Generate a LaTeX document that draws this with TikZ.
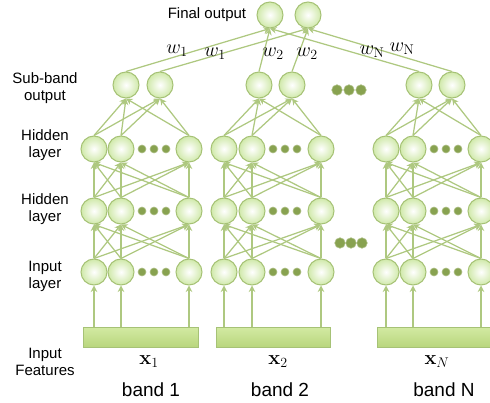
\RequirePackage{fix-cm}
\documentclass[tikz,border=0pt]{standalone}
\usepackage[no-math]{fontspec}
\setmainfont{Liberation Sans}
\usetikzlibrary{arrows.meta}
\definecolor{lnc}{RGB}{174,200,128}
\definecolor{nbd}{RGB}{166,194,118}
\definecolor{nfl}{RGB}{208,233,170}
\definecolor{dotc}{RGB}{136,162,80}
\definecolor{bartop}{RGB}{210,234,162}
\definecolor{barbot}{RGB}{184,214,124}
\begin{document}
\begin{tikzpicture}[x=1pt,y=-1pt,
  neuron/.style={circle, draw=nbd, line width=1pt, inner color=white, outer color=nfl, minimum size=26pt, inner sep=0pt},
  conn/.style={draw=lnc, line width=1.25pt, -{Stealth[length=6.5pt,width=6.5pt]}},
  sdot/.style={circle, fill=dotc, draw=dotc!70!white, line width=0.6pt, minimum size=8pt, inner sep=0pt},
  bdot/.style={circle, fill=dotc, draw=dotc!70!white, line width=0.6pt, minimum size=10.5pt, inner sep=0pt},
  lbl/.style={font=\fontsize{15}{17}\selectfont, align=center, inner sep=0pt},
  bandlbl/.style={font=\fontsize{19}{21}\selectfont, inner sep=0pt},
  wl/.style={font=\fontsize{20}{22}\selectfont, inner sep=0pt},
  featbar/.style={draw=nbd, line width=1pt, top color=bartop, bottom color=barbot, inner sep=0pt}]
\useasboundingbox (0,0) rectangle (490,403);
\clip (0,0) rectangle (490,403);

% final output
\node[neuron] (f1) at (270,15) {};
\node[neuron] (f2) at (308,15) {};

\foreach \b/\xa/\xb/\xc/\sa/\sb/\bl/\br in {1/94/121/189/126/160/83/198, 2/224/252/321/259/292/216/330, 3/386/413/481/419/452/377/495}{
  % input feature bar
  \node[featbar, minimum width=\br-\bl, minimum height=20pt, anchor=north west] (bar\b) at (\bl,327) {};
  % layers
  \foreach \k/\x in {1/\xa,2/\xb,3/\xc}{
    \node[neuron] (i\b-\k) at (\x,272) {};
    \node[neuron] (g\b-\k) at (\x,211) {};
    \node[neuron] (h\b-\k) at (\x,149) {};
  }
  \node[neuron] (s\b-1) at (\sa,85) {};
  \node[neuron] (s\b-2) at (\sb,85) {};
  % small dots
  \foreach \y/\lay in {272/i,211/g,149/h}{
    \foreach \d/\off in {1/21,2/33,3/45}{
      \node[sdot] (dot\lay\b-\d) at (\xb+\off,\y) {};
    }
  }
  % connections
  \foreach \k in {1,2,3}{
    \draw[conn] (bar\b.north -| i\b-\k) -- (i\b-\k.south);
    \foreach \j in {1,2,3}{
      \draw[conn] (i\b-\j.north) -- (g\b-\k.south);
      \draw[conn] (g\b-\j.north) -- (h\b-\k.south);
    }
    \draw[conn] (h\b-\k.north) -- (s\b-1.south);
    \draw[conn] (h\b-\k.north) -- (s\b-2.south);
  }
  \draw[conn] (s\b-1.north) -- (f1.south);
  \draw[conn] (s\b-2.north) -- (f2.south);
}

% big dots between bands
\foreach \d/\x in {1/337,2/349,3/361}{
  \node[bdot] (bu\d) at (\x,90) {};
}
\foreach \d/\x in {1/340,2/351,3/362}{
  \node[bdot] (bl\d) at (\x,243) {};
}

% weight labels
\node[wl] (w11) at (177,51) {$w_1$};
\node[wl] (w12) at (215,54) {$w_1$};
\node[wl] (w21) at (273,54) {$w_2$};
\node[wl] (w22) at (307,54) {$w_2$};
\node[wl] (wn1) at (372,52) {$w_{\mathrm{N}}$};
\node[wl] (wn2) at (402,49) {$w_{\mathrm{N}}$};

% side labels
\node[lbl] (lfin) at (207,15) {Final output};
\node[lbl] (lsub) at (45,88) {Sub-band\\output};
\node[lbl] (lh1) at (45,145) {Hidden\\layer};
\node[lbl] (lh2) at (45,209) {Hidden\\layer};
\node[lbl] (lin) at (45,276) {Input\\layer};
\node[lbl] (lfeat) at (45,362) {Input\\Features};

% feature labels
\node[wl] (x1) at (149,362) {$\mathbf{x}_1$};
\node[wl] (x2) at (278,362) {$\mathbf{x}_2$};
\node[wl] (xn) at (437,362) {$\mathbf{x}_N$};

% band labels
\node[bandlbl] (b1) at (151,390) {band 1};
\node[bandlbl] (b2) at (280,390) {band 2};
\node[bandlbl] (bn) at (444,390) {band N};
\end{tikzpicture}
\end{document}
